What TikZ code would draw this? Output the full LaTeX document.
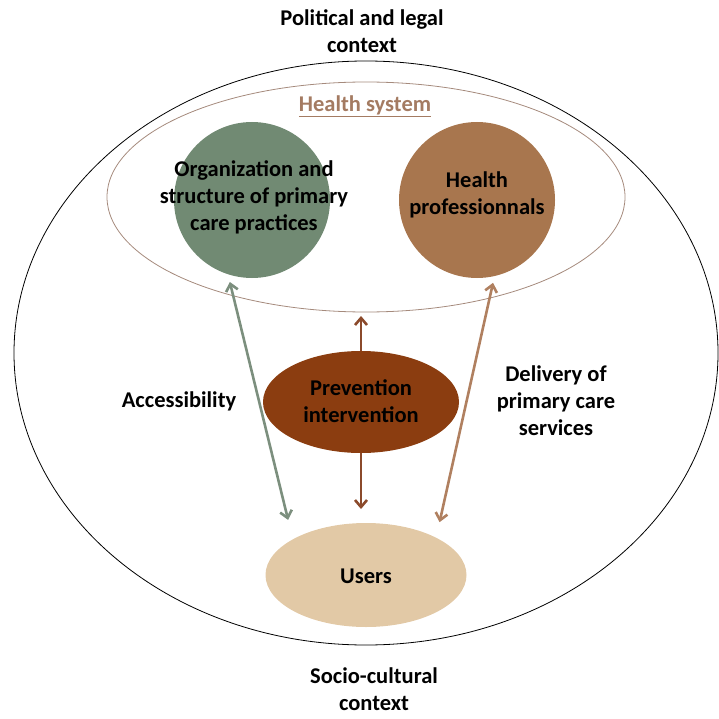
\documentclass[tikz,border=0pt]{standalone}
\usepackage{fontspec}
\setmainfont{Carlito}
\usetikzlibrary{shapes.geometric,arrows.meta}
\definecolor{orggreen}{HTML}{718A73}
\definecolor{profbrown}{HTML}{A8764E}
\definecolor{prevbrown}{HTML}{8B3D10}
\definecolor{userbeige}{HTML}{E2C9A6}
\definecolor{garrow}{HTML}{7C8F7E}
\definecolor{barrow}{HTML}{B08060}
\definecolor{parrow}{HTML}{8B4A2B}
\definecolor{hsline}{HTML}{A58A7C}
\definecolor{hstext}{HTML}{A47B62}
\begin{document}
\begin{tikzpicture}[x=1pt,y=-1pt,
  lbl/.style={font=\bfseries\fontsize{22.5}{27}\selectfont, align=center, text=black, inner sep=0},
  blob/.style={inner sep=0, outer sep=0},
  dbl/.style={line width=2.6pt, {Straight Barb[length=7pt,width=12pt]}-{Straight Barb[length=7pt,width=12pt]}},
  sgl/.style={line width=2.6pt, parrow, -{Straight Barb[length=7pt,width=12pt]}}]
\useasboundingbox (0,0) rectangle (719,719);
% outer context ellipse
\node[blob, ellipse, draw=black, line width=0.8pt, minimum width=704pt, minimum height=584pt] (outer) at (366,353) {};
% health system ellipse
\node[blob, ellipse, draw=hsline, line width=0.8pt, minimum width=518pt, minimum height=230pt] (hs) at (366,197) {};
\node[lbl, text=hstext] (hstitle) at (365,106) {\underline{Health system}};
% circles
\node[blob, circle, fill=orggreen, minimum size=156pt] (org) at (252,200) {};
\node[lbl] (orgt) at (254,197) {Organization and\\structure of primary\\care practices};
\node[blob, circle, fill=profbrown, minimum size=156pt] (prof) at (477,200) {};
\node[lbl] (proft) at (477,195) {Health\\professionnals};
% prevention
\node[blob, ellipse, fill=prevbrown, minimum width=196pt, minimum height=102pt] (prev) at (361,402) {};
\node[lbl] (prevt) at (361,401) {Prevention\\intervention};
% users
\node[blob, ellipse, fill=userbeige, minimum width=201pt, minimum height=104pt] (users) at (366,575) {};
\node[lbl] (userst) at (366,576) {Users};
% labels
\node[lbl] (pol) at (362,31) {Political and legal\\context};
\node[lbl] (soc) at (374,689) {Socio-cultural\\context};
\node[lbl] (acc) at (179,401) {Accessibility};
\node[lbl] (del) at (556,401) {Delivery of\\primary care\\services};
% arrows
\draw[dbl, garrow, shorten <=8pt, shorten >=20pt] (org.-108) -- (users.154);
\draw[dbl, barrow, shorten <=7pt, shorten >=16pt] (prof.-77) -- (users.28);
\draw[sgl, shorten >=4pt] (prev.north) -- (prev.north |- hs.south);
\draw[sgl, shorten >=14pt] (prev.south) -- (prev.south |- users.north);
\end{tikzpicture}
\end{document}
